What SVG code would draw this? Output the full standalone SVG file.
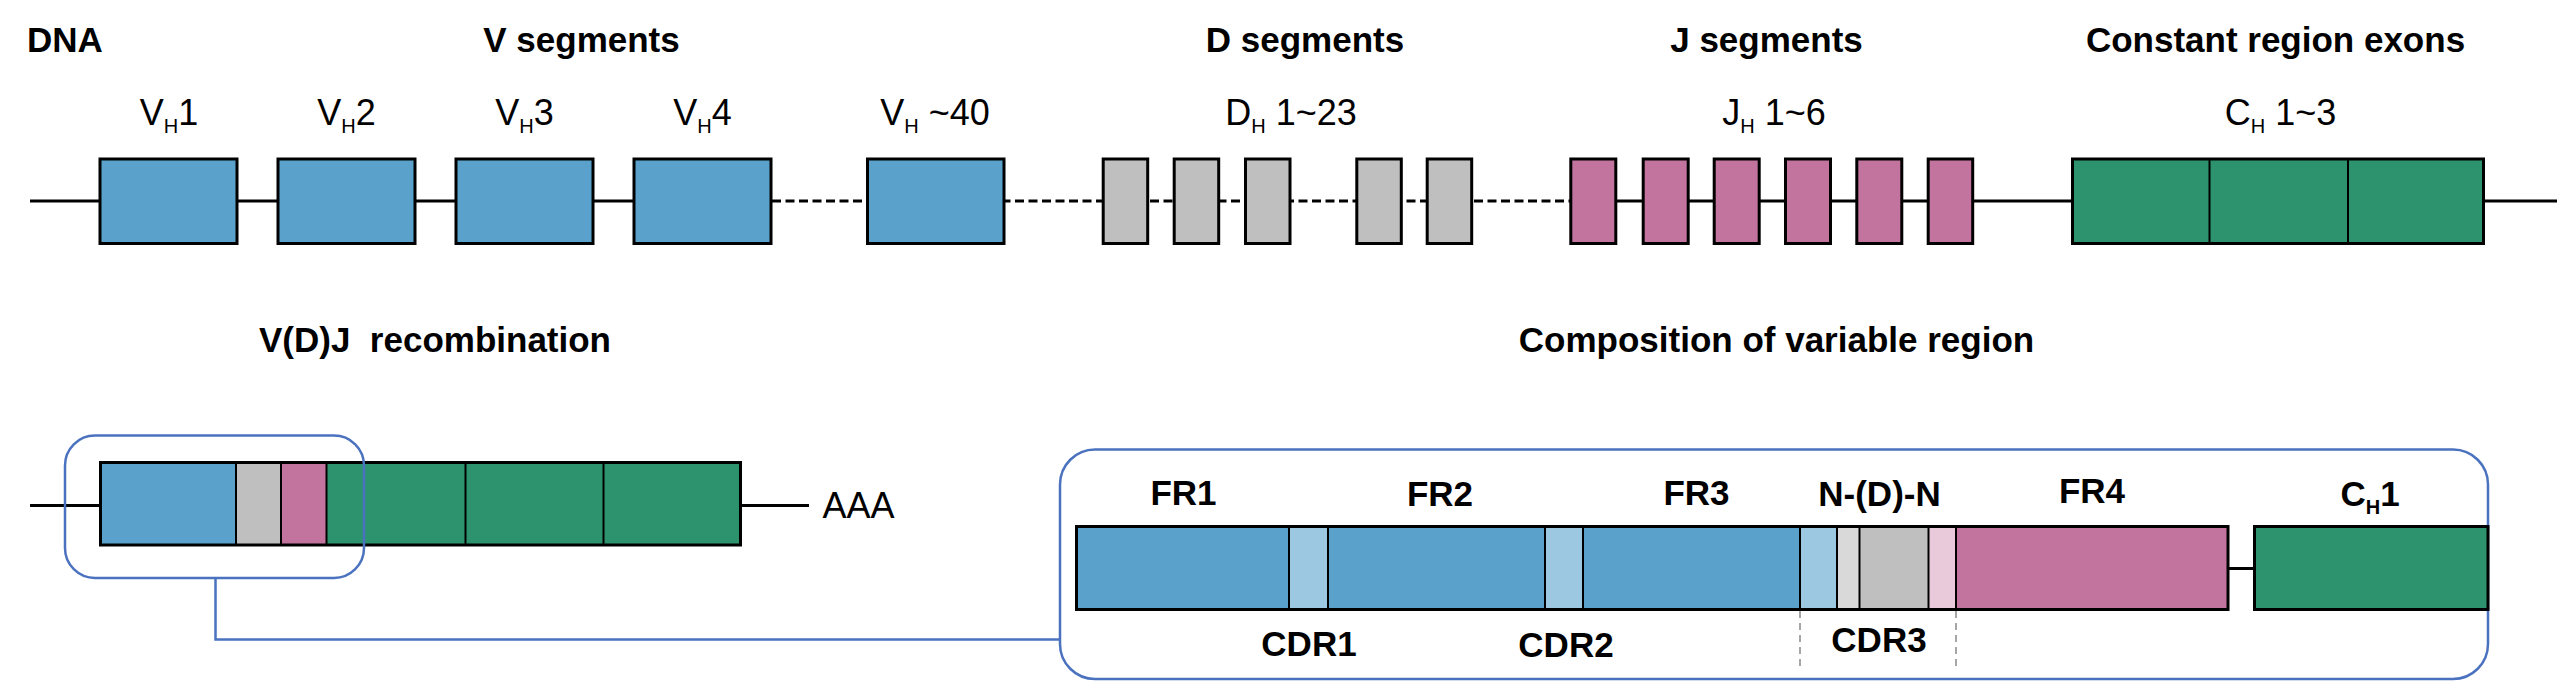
<svg xmlns="http://www.w3.org/2000/svg" width="2560" height="695" viewBox="0 0 2560 695">
<defs>
<style>
.t{font-family:"Liberation Sans",Arial,sans-serif;font-weight:bold;font-size:35px;fill:#000}
.l{font-family:"Liberation Sans",Arial,sans-serif;font-size:36px;fill:#000}
.sub{font-size:20px}
.seg{stroke:#000;stroke-width:3}
.thin{stroke:#000;stroke-width:2}
.v{fill:#5AA2CB}
.d{fill:#BFBFBF}
.j{fill:#C2749F}
.c{fill:#2C936E}
.cdr{fill:#9DC8E2}
.ln{fill:#D9D9D9}
.lp{fill:#E9CADB}
.dna{stroke:#000;stroke-width:3;fill:none}
.dash{stroke-dasharray:9 4.5}
.frame{fill:none;stroke:#4A72BF;stroke-width:2.5}
.guide{stroke:#A6A6A6;stroke-width:2;stroke-dasharray:7 5}
</style>
</defs>
<rect width="2560" height="695" fill="#fff"/>

<g id="titles">
<text class="t" x="27" y="52">DNA</text>
<text class="t" x="581.5" y="52" text-anchor="middle">V segments</text>
<text class="t" x="1305" y="52" text-anchor="middle">D segments</text>
<text class="t" x="1766.5" y="52" text-anchor="middle">J segments</text>
<text class="t" x="2275.5" y="52" text-anchor="middle">Constant region exons</text>
<text class="t" x="435" y="352" text-anchor="middle" xml:space="preserve">V(D)J  recombination</text>
<text class="t" x="1776.5" y="352" text-anchor="middle">Composition of variable region</text>
</g>

<g id="connectors">
<line class="dna" x1="30" y1="201" x2="772" y2="201"/>
<line class="dna dash" x1="772" y1="201" x2="1570" y2="201"/>
<line class="dna" x1="1570" y1="201" x2="2557" y2="201"/>
<line class="dna" x1="30" y1="505.5" x2="100" y2="505.5"/>
<line class="dna" x1="741" y1="505.5" x2="809" y2="505.5"/>
<line class="dna" x1="2228" y1="568.5" x2="2254" y2="568.5"/>
<polyline class="frame" points="215.5,578.5 215.5,639.5 1060,639.5"/>
</g>

<g id="v-segments">
<rect class="v seg" x="100" y="159" width="137" height="84.5"/>
<rect class="v seg" x="278" y="159" width="137" height="84.5"/>
<rect class="v seg" x="456" y="159" width="137" height="84.5"/>
<rect class="v seg" x="634" y="159" width="137" height="84.5"/>
<rect class="v seg" x="867.5" y="159" width="136.5" height="84.5"/>
<text class="l" x="169" y="125" text-anchor="middle">V<tspan class="sub" dy="7.5">H</tspan><tspan dy="-7.5">1</tspan></text>
<text class="l" x="346.5" y="125" text-anchor="middle">V<tspan class="sub" dy="7.5">H</tspan><tspan dy="-7.5">2</tspan></text>
<text class="l" x="524.5" y="125" text-anchor="middle">V<tspan class="sub" dy="7.5">H</tspan><tspan dy="-7.5">3</tspan></text>
<text class="l" x="702.5" y="125" text-anchor="middle">V<tspan class="sub" dy="7.5">H</tspan><tspan dy="-7.5">4</tspan></text>
<text class="l" x="935" y="125" text-anchor="middle">V<tspan class="sub" dy="7.5">H</tspan><tspan dy="-7.5"> ~40</tspan></text>
</g>

<g id="d-segments">
<rect class="d seg" x="1103.2" y="159" width="44.5" height="84.5"/>
<rect class="d seg" x="1174.2" y="159" width="44.5" height="84.5"/>
<rect class="d seg" x="1245.5" y="159" width="44.5" height="84.5"/>
<rect class="d seg" x="1356.8" y="159" width="44.5" height="84.5"/>
<rect class="d seg" x="1427.2" y="159" width="44.5" height="84.5"/>
<text class="l" x="1291" y="125" text-anchor="middle">D<tspan class="sub" dy="7.5">H</tspan><tspan dy="-7.5"> 1~23</tspan></text>
</g>

<g id="j-segments">
<rect class="j seg" x="1570.8" y="159" width="45" height="84.5"/>
<rect class="j seg" x="1643.2" y="159" width="45" height="84.5"/>
<rect class="j seg" x="1714.2" y="159" width="45" height="84.5"/>
<rect class="j seg" x="1785.5" y="159" width="45" height="84.5"/>
<rect class="j seg" x="1856.8" y="159" width="45" height="84.5"/>
<rect class="j seg" x="1928.2" y="159" width="44.5" height="84.5"/>
<text class="l" x="1774" y="125" text-anchor="middle">J<tspan class="sub" dy="7.5">H</tspan><tspan dy="-7.5"> 1~6</tspan></text>
</g>

<g id="constant-exons">
<rect class="c" x="2072.5" y="159" width="411" height="84.5"/>
<line class="thin" x1="2209.5" y1="159" x2="2209.5" y2="243.5"/>
<line class="thin" x1="2348" y1="159" x2="2348" y2="243.5"/>
<rect class="seg" fill="none" x="2072.5" y="159" width="411" height="84.5"/>
<text class="l" x="2280.5" y="125" text-anchor="middle">C<tspan class="sub" dy="7.5">H</tspan><tspan dy="-7.5"> 1~3</tspan></text>
</g>

<g id="recombined">
<rect class="v" x="100.5" y="462.5" width="135.5" height="82.5"/>
<rect class="d" x="236" y="462.5" width="45" height="82.5"/>
<rect class="j" x="281" y="462.5" width="45.5" height="82.5"/>
<rect class="c" x="326.5" y="462.5" width="414" height="82.5"/>
<line class="thin" x1="236" y1="462.5" x2="236" y2="545"/>
<line class="thin" x1="281" y1="462.5" x2="281" y2="545"/>
<line class="thin" x1="326.5" y1="462.5" x2="326.5" y2="545"/>
<line class="thin" x1="465.5" y1="462.5" x2="465.5" y2="545"/>
<line class="thin" x1="603.5" y1="462.5" x2="603.5" y2="545"/>
<rect class="seg" fill="none" x="100.5" y="462.5" width="640" height="82.5"/>
<text class="l" x="822.5" y="518" font-size="34">AAA</text>
</g>

<g id="highlight">
<rect class="frame" x="65" y="435.5" width="299" height="142.5" rx="30" ry="30"/>
</g>

<g id="variable-region">
<rect class="frame" x="1060" y="449.5" width="1428" height="229.5" rx="35" ry="35"/>
<rect class="v" x="1076.5" y="526.5" width="212.5" height="83"/>
<rect class="cdr" x="1289" y="526.5" width="39" height="83"/>
<rect class="v" x="1328" y="526.5" width="217" height="83"/>
<rect class="cdr" x="1545" y="526.5" width="38" height="83"/>
<rect class="v" x="1583" y="526.5" width="217" height="83"/>
<rect class="cdr" x="1800" y="526.5" width="37" height="83"/>
<rect class="ln" x="1837" y="526.5" width="22.5" height="83"/>
<rect class="d" x="1859.5" y="526.5" width="69" height="83"/>
<rect class="lp" x="1928.5" y="526.5" width="27.5" height="83"/>
<rect class="j" x="1956" y="526.5" width="272" height="83"/>
<line class="thin" x1="1289" y1="526.5" x2="1289" y2="609.5"/>
<line class="thin" x1="1328" y1="526.5" x2="1328" y2="609.5"/>
<line class="thin" x1="1545" y1="526.5" x2="1545" y2="609.5"/>
<line class="thin" x1="1583" y1="526.5" x2="1583" y2="609.5"/>
<line class="thin" x1="1800" y1="526.5" x2="1800" y2="609.5"/>
<line class="thin" x1="1837" y1="526.5" x2="1837" y2="609.5"/>
<line class="thin" x1="1859.5" y1="526.5" x2="1859.5" y2="609.5"/>
<line class="thin" x1="1928.5" y1="526.5" x2="1928.5" y2="609.5"/>
<line class="thin" x1="1956" y1="526.5" x2="1956" y2="609.5"/>
<rect class="seg" fill="none" x="1076.5" y="526.5" width="1151.5" height="83"/>
<rect class="c seg" x="2254.5" y="526.5" width="233.5" height="83"/>
<line class="guide" x1="1800" y1="611" x2="1800" y2="668"/>
<line class="guide" x1="1956" y1="611" x2="1956" y2="668"/>
<text class="t" x="1183.5" y="505" text-anchor="middle" font-size="34">FR1</text>
<text class="t" x="1440" y="506" text-anchor="middle" font-size="34">FR2</text>
<text class="t" x="1696.5" y="505" text-anchor="middle" font-size="34">FR3</text>
<text class="t" x="1879.5" y="506" text-anchor="middle" font-size="34">N-(D)-N</text>
<text class="t" x="2092" y="503" text-anchor="middle" font-size="34">FR4</text>
<text class="t" x="2370" y="506" text-anchor="middle" font-size="34">C<tspan font-size="20" dy="8">H</tspan><tspan dy="-8">1</tspan></text>
<text class="t" x="1309" y="656" text-anchor="middle" font-size="34">CDR1</text>
<text class="t" x="1566" y="657" text-anchor="middle" font-size="34">CDR2</text>
<text class="t" x="1879" y="652" text-anchor="middle" font-size="34">CDR3</text>
</g>
</svg>
